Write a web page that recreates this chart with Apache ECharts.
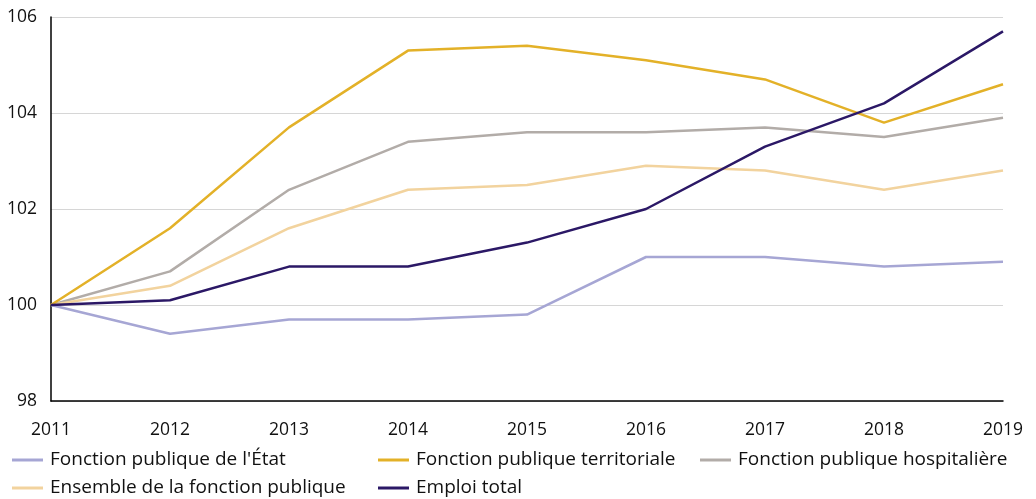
<!DOCTYPE html>
<html>
<head>
<meta charset="utf-8">
<script src="https://cdn.jsdelivr.net/npm/echarts@6/dist/echarts.min.js"></script>
<style>
  html, body { margin: 0; padding: 0; background: #fff; }
  #container { width: 1036px; height: 499px; }
</style>
</head>
<body>
<div id="container"></div>
<script>
var years = ['2011', '2012', '2013', '2014', '2015', '2016', '2017', '2018', '2019'];
var fpe = [100, 99.4, 99.7, 99.7, 99.8, 101.0, 101.0, 100.8, 100.9];
var fpt = [100, 101.6, 103.7, 105.3, 105.4, 105.1, 104.7, 103.8, 104.6];
var fph = [100, 100.7, 102.4, 103.4, 103.6, 103.6, 103.7, 103.5, 103.9];
var ensemble = [100, 100.4, 101.6, 102.4, 102.5, 102.9, 102.8, 102.4, 102.8];
var emploiTotal = [100, 100.1, 100.8, 100.8, 101.3, 102.0, 103.3, 104.2, 105.7];

var names = {
    fpe: "Fonction publique de l'État",
    fpt: 'Fonction publique territoriale',
    fph: 'Fonction publique hospitalière',
    ens: 'Ensemble de la fonction publique',
    tot: 'Emploi total'
};

var font = '"Open Sans", sans-serif';
var dom = document.getElementById('container');
var myChart = echarts.init(dom);

var legendBase = {
    orient: 'vertical',
    top: 450,
    icon: 'rect',
    itemWidth: 31,
    itemHeight: 3,
    itemGap: 8,
    padding: 0,
    textStyle: { fontFamily: font, fontSize: 19, color: '#111', lineHeight: 20, padding: [0, 0, 0, 2] }
};

var line = (name, data, color, z) => ({
    name: name,
    type: 'line',
    data: data,
    symbol: 'none',
    z: z,
    itemStyle: { color: color },
    lineStyle: { color: color, width: 2.5 }
});

var option = {
    animation: false,
    grid: { left: 51, right: 33, top: 17, bottom: 98 },
    legend: [
        Object.assign({ left: 12, data: [names.fpe, names.ens] }, legendBase),
        Object.assign({ left: 378, data: [names.fpt, names.tot] }, legendBase),
        Object.assign({ left: 700, data: [names.fph] }, legendBase)
    ],
    xAxis: {
        type: 'category',
        data: years,
        boundaryGap: false,
        axisLine: { lineStyle: { color: '#000', width: 1.5 } },
        axisTick: { show: false },
        axisLabel: { fontFamily: font, fontSize: 17.5, color: '#111', margin: 20 },
        splitLine: { show: false }
    },
    yAxis: {
        type: 'value',
        min: 98,
        max: 106,
        interval: 2,
        axisLine: { show: true, lineStyle: { color: '#000', width: 1.5 } },
        axisTick: { show: false },
        axisLabel: { fontFamily: font, fontSize: 17.5, color: '#111', margin: 14 },
        splitLine: { lineStyle: { color: '#d6d6d6', width: 1 } }
    },
    series: [
        line(names.fpe, fpe, '#a6a6d4', 2),
        line(names.fpt, fpt, '#e3b128', 3),
        line(names.fph, fph, '#b2aca8', 2),
        line(names.ens, ensemble, '#f2d39e', 2),
        line(names.tot, emploiTotal, '#2b1866', 4)
    ]
};
myChart.setOption(option, true);
</script>
</body>
</html>
